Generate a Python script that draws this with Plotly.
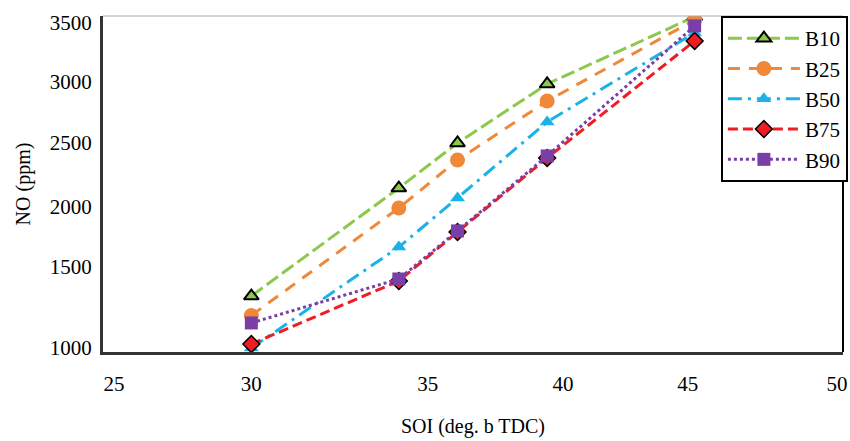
import plotly.graph_objects as go

# SOI values (deg. b TDC)
soi = [29.75, 34.85, 36.88, 39.98, 45.08]

# NO (ppm) per blend
b10 = [1409, 2227, 2568, 3015, 3525]
b25 = [1262, 2076, 2439, 2886, 3500]
b50 = [1015, 1780, 2152, 2727, 3402]
b75 = [1045, 1523, 1894, 2455, 3341]
b90 = [1205, 1538, 1902, 2470, 3455]

names = ["B10", "B25", "B50", "B75", "B90"]
values = [b10, b25, b50, b75, b90]

# tick labels
x_tick_text = ["25", "30", "35", "40", "45", "50"]
y_tick_text = ["1000", "1500", "2000", "2500", "3000", "3500"]
# label placement (as printed in the original figure)
x_tick_pos = [25.0, 29.75, 35.85, 40.53, 44.84, 50.0]
y_tick_pos = [1015, 1629, 2083, 2568, 3030, 3477]

styles = [
    dict(color="#8CC84B", dash="14px,5px", symbol="triangle-up", msize=13,
         mcolor="#8CC84B", mline=dict(color="black", width=2)),
    dict(color="#F0883A", dash="12px,9px", symbol="circle", msize=15,
         mcolor="#F0883A", mline=dict(color="#F0883A", width=0)),
    dict(color="#1AB2E8", dash="14px,6px,3px,6px", symbol="triangle-up", msize=13,
         mcolor="#1AB2E8", mline=dict(color="#1AB2E8", width=0)),
    dict(color="#F01C24", dash="10px,5px", symbol="diamond", msize=13,
         mcolor="#F01C24", mline=dict(color="black", width=1.5)),
    dict(color="#7A3FA6", dash="dot", symbol="square", msize=13,
         mcolor="#7A3FA6", mline=dict(color="#7A3FA6", width=0)),
]

fig = go.Figure()
for name, vals, st in zip(names, values, styles):
    fig.add_trace(go.Scatter(
        x=soi, y=vals, name=name, mode="lines+markers",
        line=dict(color=st["color"], width=3, dash=st["dash"]),
        marker=dict(symbol=st["symbol"], size=st["msize"], color=st["mcolor"],
                    line=st["mline"]),
    ))

font_family = "'Liberation Serif', 'Times New Roman', serif"

fig.update_layout(
    width=850, height=441,
    margin=dict(l=103, r=2, t=16, b=89),
    paper_bgcolor="white", plot_bgcolor="white",
    font=dict(family=font_family, size=21, color="black"),
    showlegend=True,
    legend=dict(
        x=0.835, y=1, xanchor="left", yanchor="top",
        bgcolor="white", bordercolor="black", borderwidth=2,
        font=dict(family=font_family, size=21, color="black"),
        itemwidth=72,
    ),
    xaxis=dict(
        range=[24.62, 50.21],
        tickmode="array", tickvals=x_tick_pos, ticktext=x_tick_text,
        showgrid=False, zeroline=False,
        showline=True, linecolor="#333333", linewidth=3,
        ticks="", ticklabelstandoff=11, ticklabeloverflow="allow",
        title=dict(text="SOI (deg. b TDC)", standoff=24,
                   font=dict(family=font_family, size=20)),
    ),
    yaxis=dict(
        range=[985, 3530],
        tickmode="array", tickvals=y_tick_pos, ticktext=y_tick_text,
        showgrid=False, zeroline=False,
        showline=True, linecolor="#333333", linewidth=3,
        ticks="", ticklabelstandoff=4,
        title=dict(text="NO (ppm)", standoff=14,
                   font=dict(family=font_family, size=20)),
    ),
    shapes=[
        dict(type="line", xref="paper", yref="paper", x0=0, x1=1, y0=1, y1=1,
             line=dict(color="#AAAAAA", width=1)),
        dict(type="line", xref="paper", yref="paper", x0=1, x1=1, y0=0, y1=1,
             line=dict(color="black", width=2)),
    ],
)

fig.write_html("out.html")
